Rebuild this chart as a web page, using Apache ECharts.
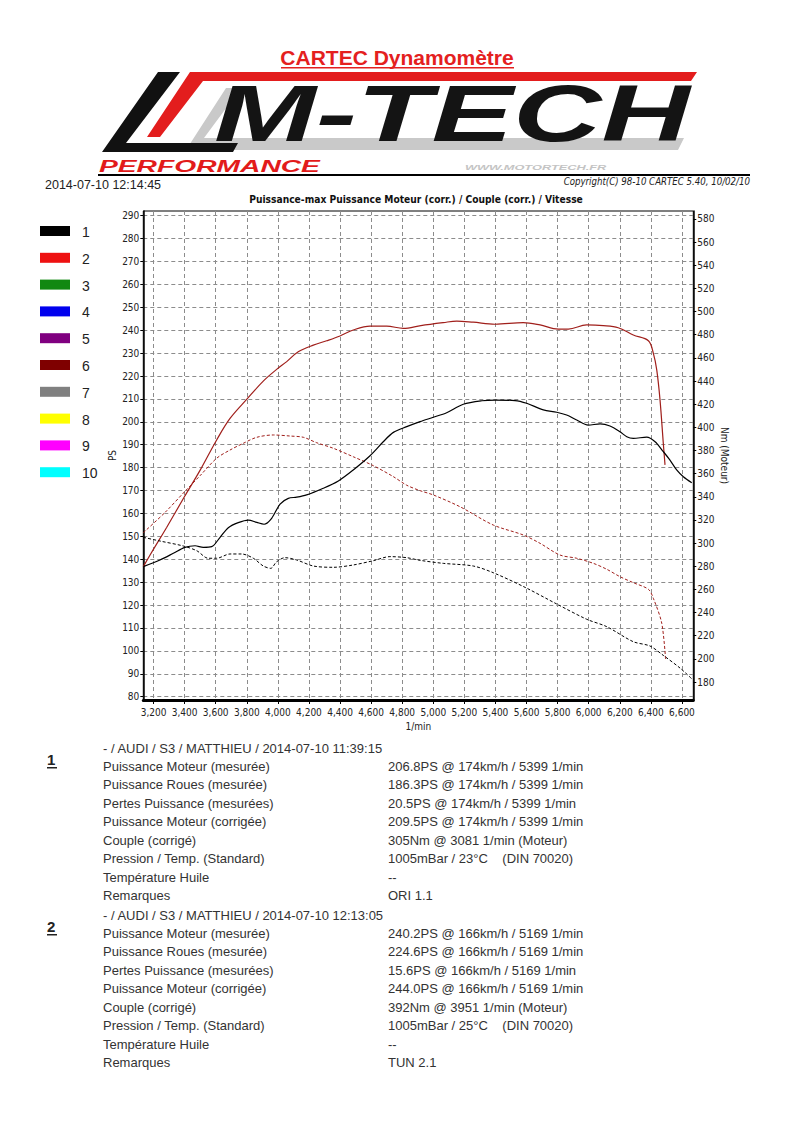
<!DOCTYPE html>
<html><head><meta charset="utf-8">
<script src="https://cdn.jsdelivr.net/npm/echarts@6/dist/echarts.min.js"></script>
<style>html,body{margin:0;padding:0;background:#fff}#c{width:794px;height:1123px}</style>
</head><body><div id="c"></div>
<script>
// ---- axis ticks / labels ----
const xTicks = [3200,3400,3600,3800,4000,4200,4400,4600,4800,5000,5200,5400,5600,5800,6000,6200,6400,6600];
const psTicks = [80,90,100,110,120,130,140,150,160,170,180,190,200,210,220,230,240,250,260,270,280,290];
const nmTicks = [180,200,220,240,260,280,300,320,340,360,380,400,420,440,460,480,500,520,540,560,580];

// ---- run 1 : power (PS) ----
const p1Rpm = [3134,3241,3327,3402,3467,3520,3574,3628,3681,3745,3810,3864,3911,3960,4014,4067,4121,4185,4292,4389,4485,4593,4678,4743,4829,4915,5000,5086,5193,5312,5400,5526,5601,5708,5794,5858,5923,5997,6073,6137,6201,6245,6287,6373,6427,6480,6523,6566,6609,6663];
const p1Ps  = [136.8,139.7,142.6,145.2,145.9,145.2,145.5,149.6,153.8,156.0,157.1,156.1,155.3,157.9,164.1,166.6,167.1,168.1,171.0,174.2,179.0,185.2,191.3,195.4,197.9,200.1,202.0,204.0,207.7,209.2,209.5,209.3,208.1,205.2,204.2,203.0,200.8,198.6,199.1,198.2,195.7,193.5,192.8,193.3,191.3,187.0,183.3,179.0,176.0,173.4];
// ---- run 2 : power (PS) ----
const p2Rpm = [3134,3198,3285,3402,3499,3606,3692,3799,3906,3992,4057,4131,4228,4314,4400,4485,4593,4700,4807,4920,5064,5151,5257,5397,5579,5687,5804,5869,5987,6094,6190,6287,6384,6416,6438,6459,6480,6491];
const p2Ps  = [136.8,144.2,154.0,167.7,178.8,192.1,201.5,209.8,217.8,222.9,226.3,230.6,233.5,235.4,237.5,240.1,241.8,241.8,240.8,242.0,243.3,244.0,243.5,242.6,243.3,242.3,240.5,240.5,242.3,242.0,241.1,237.9,235.4,229.9,222.6,209.5,190.6,181.2];
// ---- run 1 : torque (Nm) ----
const t1Rpm = [3134,3241,3391,3478,3552,3606,3692,3767,3842,3906,3954,3992,4046,4121,4228,4357,4485,4614,4721,4829,4915,5064,5257,5386,5590,5794,5987,6116,6287,6394,6480,6588,6663];
const t1Nm  = [305.0,301.8,297.5,293.4,286.9,286.9,290.6,290.6,286.9,280.2,278.2,283.9,287.4,285.4,280.2,279.1,281.1,284.8,288.3,287.4,285.1,282.5,280.2,274.4,261.8,247.4,234.2,227.8,214.8,211.1,203.0,192.0,182.8];
// ---- run 2 : torque (Nm) ----
const t2Rpm = [3134,3274,3402,3499,3606,3692,3777,3864,3971,4078,4164,4250,4357,4485,4614,4743,4829,4915,5000,5172,5386,5579,5687,5815,5923,6030,6116,6201,6287,6384,6416,6470,6495];
const t2Nm  = [309.0,326.5,344.7,358.2,373.3,380.4,386.2,391.4,393.4,392.5,391.4,386.7,381.9,374.6,366.9,357.4,350.0,345.3,341.6,331.4,315.6,307.0,299.8,289.7,286.9,282.5,277.4,271.0,265.8,260.1,252.3,230.7,199.0];

// ---- legend ----
const legendLabels = ['1','2','3','4','5','6','7','8','9','10'];
const legendColors = ['#000000','#ee1111','#118811','#0000ee','#800080','#7f0000','#808080','#ffff00','#ff00ff','#00ffff'];

// ---- result texts ----
const rowLabels = ['Puissance Moteur (mesurée)','Puissance Roues (mesurée)','Pertes Puissance (mesurées)','Puissance Moteur (corrigée)','Couple (corrigé)','Pression / Temp. (Standard)','Température Huile','Remarques'];
const run1Header = '- / AUDI / S3 / MATTHIEU / 2014-07-10 11:39:15';
const run1Values = ['206.8PS @ 174km/h / 5399 1/min','186.3PS @ 174km/h / 5399 1/min','20.5PS @ 174km/h / 5399 1/min','209.5PS @ 174km/h / 5399 1/min','305Nm @ 3081 1/min (Moteur)','1005mBar / 23°C    (DIN 70020)','--','ORI 1.1'];
const run2Header = '- / AUDI / S3 / MATTHIEU / 2014-07-10 12:13:05';
const run2Values = ['240.2PS @ 166km/h / 5169 1/min','224.6PS @ 166km/h / 5169 1/min','15.6PS @ 166km/h / 5169 1/min','244.0PS @ 166km/h / 5169 1/min','392Nm @ 3951 1/min (Moteur)','1005mBar / 25°C    (DIN 70020)','--','TUN 2.1'];

const zip = (a, b) => a.map((v, i) => [v, b[i]]);
const NARROW = '"Liberation Sans Narrow","Arial Narrow","DejaVu Sans Condensed",sans-serif';
const SANS = '"Liberation Sans",Arial,sans-serif';
const RED2 = '#a01f1b';

const graphics = [];
// title
graphics.push({type:'text', x:397, y:57, style:{text:'CARTEC Dynamomètre', font:'bold 21px '+SANS, fill:'#e4201e', textAlign:'center', textVerticalAlign:'middle'}});
graphics.push({type:'rect', shape:{x:281, y:67, width:233, height:1.5}, style:{fill:'#e4201e'}});
// logo shapes
graphics.push({type:'polygon', shape:{points:[[226,88],[241,88],[204,138],[684,138],[678,150],[186,150]]}, style:{fill:'#c9c9c9'}});
graphics.push({type:'polygon', shape:{points:[[190,72],[697,72],[691,81],[203,81],[160,137],[147,137]]}, style:{fill:'#e31d1d'}});
graphics.push({type:'polygon', shape:{points:[[158,72],[180,72],[126,143],[238,143],[233,152],[102,152]]}, style:{fill:'#111'}});
graphics.push({type:'text', x:214, y:113, scaleX:1.53, style:{text:'M-TECH', font:'italic bold 80px '+SANS, fill:'#141414', textAlign:'left', textVerticalAlign:'middle'}});
graphics.push({type:'text', x:99, y:166, scaleX:1.66, style:{text:'PERFORMANCE', font:'italic bold 17px '+SANS, fill:'#e21b1b', textAlign:'left', textVerticalAlign:'middle'}});
graphics.push({type:'text', x:465, y:167, scaleX:1.6, style:{text:'WWW.MOTORTECH.FR', font:'italic bold 8px '+SANS, fill:'#c4c4c4', textAlign:'left', textVerticalAlign:'middle'}});
graphics.push({type:'rect', shape:{x:98, y:174, width:652, height:2}, style:{fill:'#000'}});
graphics.push({type:'text', x:45, y:185, style:{text:'2014-07-10 12:14:45', font:'12.5px '+SANS, fill:'#222', textAlign:'left', textVerticalAlign:'middle'}});
graphics.push({type:'text', x:750, y:181, style:{text:'Copyright(C) 98-10 CARTEC 5.40, 10/02/10', font:'italic 9.6px '+NARROW, fill:'#222', textAlign:'right', textVerticalAlign:'middle'}});
graphics.push({type:'text', x:416, y:199, style:{text:'Puissance-max Puissance Moteur (corr.) / Couple (corr.) / Vitesse', font:'bold 10.2px '+NARROW, fill:'#111', textAlign:'center', textVerticalAlign:'middle'}});
// legend
legendLabels.forEach((lab, i) => {
  const cy = 231 + i * 26.8;
  graphics.push({type:'rect', shape:{x:40, y:cy-5, width:30, height:10}, style:{fill:legendColors[i]}});
  graphics.push({type:'text', x:82, y:cy+1, style:{text:lab, font:'14px '+SANS, fill:'#222', textAlign:'left', textVerticalAlign:'middle'}});
});
// result blocks
function block(num, header, values, y0, numY) {
  graphics.push({type:'text', x:47, y:numY, style:{text:num, font:'bold 15px '+SANS, fill:'#222', textAlign:'left', textVerticalAlign:'middle'}});
  graphics.push({type:'rect', shape:{x:47, y:numY+8, width:10, height:1.5}, style:{fill:'#222'}});
  graphics.push({type:'text', x:103, y:y0, style:{text:header, font:'13px '+SANS, fill:'#333', textAlign:'left', textVerticalAlign:'middle'}});
  rowLabels.forEach((lab, i) => {
    const y = y0 + 18.45 * (i + 1);
    graphics.push({type:'text', x:103, y:y, style:{text:lab, font:'13px '+SANS, fill:'#333', textAlign:'left', textVerticalAlign:'middle'}});
    graphics.push({type:'text', x:388, y:y, style:{text:values[i], font:'13px '+SANS, fill:'#333', textAlign:'left', textVerticalAlign:'middle'}});
  });
}
block('1', run1Header, run1Values, 748, 759);
block('2', run2Header, run2Values, 915, 926);

const labelStyle = {fontFamily: NARROW, fontSize: 10, color: '#222'};
const chart = echarts.init(document.getElementById('c'), null, {renderer: 'svg'});
chart.setOption({
  backgroundColor: '#fff',
  animation: false,
  grid: {left: 143.3, right: 100.7, top: 211, bottom: 423, show: true, borderColor: '#000', borderWidth: 1, outerBoundsMode: 'none'},
  xAxis: {
    type: 'value', min: 3134, max: 6673,
    name: '1/min', nameLocation: 'middle', nameGap: 21, nameTextStyle: labelStyle, nameMoveOverlap: false,
    axisLine: {show: true, lineStyle: {color: '#000', width: 3}},
    axisTick: {show: true, customValues: xTicks, length: 4, lineStyle: {color: '#000'}},
    axisLabel: Object.assign({customValues: xTicks, margin: 7, formatter: v => v.toLocaleString('en-US')}, labelStyle),
    splitLine: {show: true, lineStyle: {type: [4, 3], color: '#8c8c8c', width: 1}}
  },
  yAxis: [{
    type: 'value', position: 'left', min: 78.56, max: 292.05,
    name: 'PS', nameLocation: 'middle', nameRotate: 90, nameGap: 26, nameTextStyle: labelStyle, nameMoveOverlap: false,
    axisLine: {show: true, lineStyle: {color: '#000', width: 1.5}},
    axisTick: {show: true, customValues: psTicks, length: 3, lineStyle: {color: '#000'}},
    axisLabel: Object.assign({customValues: psTicks, margin: 4}, labelStyle),
    splitLine: {show: true, lineStyle: {type: [4, 3], color: '#8c8c8c', width: 1}}
  }, {
    type: 'value', position: 'right', min: 164.45, max: 586.9,
    name: 'Nm (Moteur)', nameLocation: 'middle', nameRotate: -90, nameGap: 26, nameTextStyle: labelStyle, nameMoveOverlap: false,
    axisLine: {show: true, lineStyle: {color: '#000', width: 1.5}},
    axisTick: {show: true, customValues: nmTicks, length: 3, lineStyle: {color: '#000'}},
    axisLabel: Object.assign({customValues: nmTicks, margin: 4}, labelStyle),
    splitLine: {show: false}
  }],
  series: [
    {name: 'P2', type: 'line', yAxisIndex: 0, data: zip(p2Rpm, p2Ps), showSymbol: false, smooth: 0.35, lineStyle: {color: RED2, width: 1.2}},
    {name: 'T2', type: 'line', yAxisIndex: 1, data: zip(t2Rpm, t2Nm), showSymbol: false, smooth: 0.3, lineStyle: {color: RED2, width: 1, type: [3, 2]}},
    {name: 'T1', type: 'line', yAxisIndex: 1, data: zip(t1Rpm, t1Nm), showSymbol: false, smooth: 0.3, lineStyle: {color: '#000', width: 1, type: [3, 2]}},
    {name: 'P1', type: 'line', yAxisIndex: 0, data: zip(p1Rpm, p1Ps), showSymbol: false, smooth: 0.3, lineStyle: {color: '#000', width: 1.2}}
  ],
  graphic: graphics
});
</script></body></html>
